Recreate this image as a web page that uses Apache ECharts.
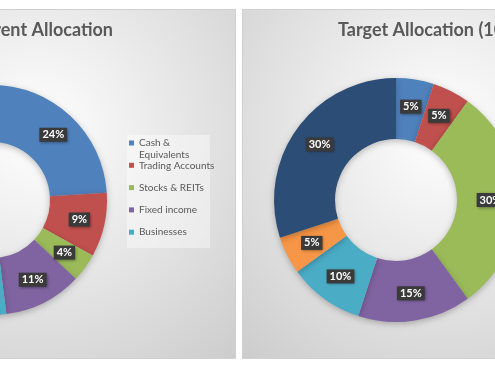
<!DOCTYPE html>
<html>
<head>
<meta charset="utf-8">
<script src="https://cdn.jsdelivr.net/npm/echarts@6/dist/echarts.min.js"></script>
<style>
html,body{margin:0;padding:0;background:#fff;}
#c{width:495px;height:366px;}
</style>
</head>
<body>
<div id="c"></div>
<script>
// ---- data ----
var categories = ['Cash & Equivalents', 'Trading Accounts', 'Stocks & REITs', 'Fixed income', 'Businesses', 'Real Estate', 'Retirement Accounts'];
var currentValues = [24, 9, 4, 11, 52];
var targetValues = [5, 5, 30, 15, 10, 5, 30];
var legendNames = ['Cash & Equivalents', 'Trading Accounts', 'Stocks & REITs', 'Fixed income', 'Businesses'];
var titleLeft = 'Current Allocation';
var titleRight = 'Target Allocation (10 Years)';

var colors = ['#4F81BD', '#C0504D', '#9BBB59', '#8064A2', '#4BACC6', '#F79646', '#2C4D75'];
var FONT = 'Lato, "Open Sans", sans-serif';

function toData(vals) {
  return vals.map(function (v, i) {
    return { name: categories[i], value: v, itemStyle: { color: colors[i] } };
  });
}

var labelStyle = {
  show: true,
  position: 'inside',
  formatter: '{c}%',
  color: '#ffffff',
  fontFamily: FONT,
  fontWeight: 'bold',
  fontSize: 11,
  backgroundColor: '#3a3a3a',
  padding: [2, 3, 1, 3],
  shadowColor: 'rgba(0,0,0,0.45)',
  shadowBlur: 3,
  shadowOffsetX: 1,
  shadowOffsetY: 1
};

var panelFill = {
  type: 'radial', x: 0.5, y: 0.35, r: 0.85,
  colorStops: [{ offset: 0, color: '#ffffff' }, { offset: 1, color: '#cdcdcd' }]
};

var chart = echarts.init(document.getElementById('c'), null, { renderer: 'canvas' });
chart.setOption({
  animation: false,
  color: colors,
  graphic: [
    { type: 'rect', z: -10, silent: true, shape: { x: -161.5, y: 9.5, width: 397, height: 349 },
      style: { fill: panelFill, stroke: '#d0d0d0', lineWidth: 1 } },
    { type: 'rect', z: -10, silent: true, shape: { x: 242.5, y: 9.5, width: 400, height: 349 },
      style: { fill: panelFill, stroke: '#d0d0d0', lineWidth: 1 } },
    { type: 'rect', z: -5, silent: true, shape: { x: 127, y: 135, width: 83, height: 113 },
      style: { fill: 'rgba(255,255,255,0.4)' } }
  ],
  title: [
    { text: titleLeft, right: 382, top: 21, padding: 0,
      textStyle: { fontFamily: FONT, fontSize: 18, fontWeight: 'bold', color: '#595959' } },
    { text: titleRight, left: 338, top: 21, padding: 0,
      textStyle: { fontFamily: FONT, fontSize: 18, fontWeight: 'bold', color: '#595959' } }
  ],
  legend: {
    orient: 'vertical',
    left: 129,
    top: 126,
    padding: 0,
    itemWidth: 5,
    itemHeight: 5,
    itemGap: -11.7,
    icon: 'rect',
    selectedMode: false,
    data: legendNames,
    formatter: function (name) {
      if (name === 'Cash & Equivalents') {
        return '{s| }\n{t|Cash &}\n{t|Equivalents}';
      }
      return '{s| }\n{t|' + name + '}\n{s| }';
    },
    textStyle: {
      color: '#595959',
      fontFamily: FONT,
      fontSize: 10,
      rich: {
        s: { lineHeight: 12, fontSize: 10 },
        t: { lineHeight: 12, fontSize: 10, color: '#595959', fontFamily: FONT }
      }
    }
  },
  series: [
    {
      type: 'pie',
      center: [-8, 200],
      radius: [58, 115],
      startAngle: 90,
      clockwise: true,
      silent: true,
      data: toData(currentValues),
      label: labelStyle,
      labelLine: { show: false },
      itemStyle: { shadowBlur: 6, shadowColor: 'rgba(0,0,0,0.25)', shadowOffsetY: 2 }
    },
    {
      type: 'pie',
      center: [396, 200],
      radius: [61, 122],
      startAngle: 90,
      clockwise: true,
      silent: true,
      data: toData(targetValues),
      label: labelStyle,
      labelLine: { show: false },
      itemStyle: { shadowBlur: 6, shadowColor: 'rgba(0,0,0,0.25)', shadowOffsetY: 2 }
    }
  ]
});
</script>
</body>
</html>
